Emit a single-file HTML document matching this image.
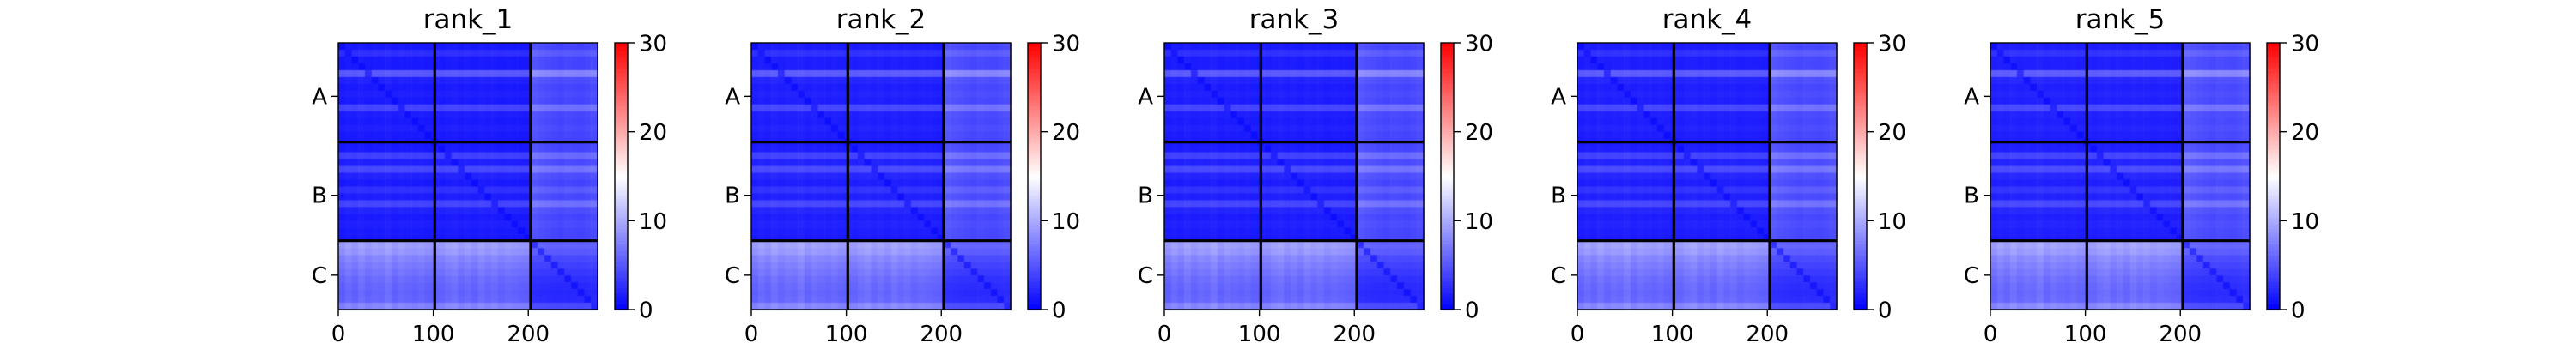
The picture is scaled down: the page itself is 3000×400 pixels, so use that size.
<!DOCTYPE html>
<html><head><meta charset="utf-8"><style>
html,body{margin:0;padding:0;background:#fff;}
#wrap{position:relative;width:3000px;height:400px;overflow:hidden;}
canvas{position:absolute;top:0;left:0;}
svg{position:absolute;top:0;left:0;display:block;font-family:"DejaVu Sans","Liberation Sans",sans-serif;}
</style></head><body>
<div id="wrap">
<canvas id="cv" width="3000" height="400"></canvas>
<svg id="fig" width="3000" height="400" viewBox="0 0 3000 400" xmlns="http://www.w3.org/2000/svg"></svg>
</div>
<script>
// ---- data ----
var panelTitles = ["rank_1","rank_2","rank_3","rank_4","rank_5"];
var rankShift = [0, 0.2, 0.1, 0.2, 0.3];
var segmentLabels = ["A","B","C"];
var segmentBounds = [0, 101.5, 202.5, 273];
var xTicks = [0, 100, 200];
var cbarTicks = [0, 10, 20, 30];
// block base values [rowBlock][colBlock]
var blockBase = [[1,1,3],[1,1,3],[5.5,5.5,2.5]];
// per-row (7-unit step) extra intensity
var rowBoost = [0.2,1.5,0.3,0.3,4,0.8,0.3,0.6,0.3,2.8,0.5,0.3,0.6,0.3,0.2,
  0.3,2.5,0.6,3,0.8,0.3,1.6,0.5,2.8,0.8,0.3,0.6,0.3,0.2,
  3,2.5,1.5,1,0.5,0,-0.3,-0.5,-0.3,1.5];
// per-column (7-unit step) extra intensity
var colBoost = [0.3,1,0.5,1.2,0.6,1,0.8,1.4,0.5,1,0.7,0.5,0.8,0.4,0.3,
  0.5,1,1.3,0.6,1,0.5,1.2,0.7,1,0.5,0.8,0.6,0.4,0.3,
  1.5,1.2,1,0.8,0.6,0.8,0.7,0.6,0.8,1];
var cellUnits = 7;

// ---- layout ----
var NS = "http://www.w3.org/2000/svg";
var svg = document.getElementById("fig");
var ctx = document.getElementById("cv").getContext("2d");
var firstLeft = 394, panelStep = 481, hmW = 302, hmTop = 50, hmBot = 361;
var unitMax = 273, vmax = 30;
function mk(tag, attrs, parent){var e=document.createElementNS(NS,tag);for(var k in attrs)e.setAttribute(k,String(attrs[k]));(parent||svg).appendChild(e);return e;}
function bwr(v){
  if(!isFinite(v)) v = 3;
  v=Math.max(0,Math.min(vmax,v));
  var rr,gg,bb;
  if(v<=15){var t=v/15;rr=Math.round(255*t);gg=rr;bb=255;}
  else{var t2=(v-15)/15;rr=255;gg=Math.round(255*(1-t2));bb=gg;}
  return "rgb("+rr+","+gg+","+bb+")";
}
function blockOf(u){return u<segmentBounds[1]?0:(u<segmentBounds[2]?1:2);}

for (var p=0; p<panelTitles.length; p++){
  var left = firstLeft + p*panelStep;
  var xS = (function(L){return function(u){return L + u/unitMax*hmW;};})(left);
  var yS = function(u){return hmTop + u/unitMax*(hmBot-hmTop);};
  var n = rowBoost.length;
  for (var i=0;i<n;i++){
    var ui=i*cellUnits, bi=blockOf(ui+3);
    for (var j=0;j<n;j++){
      var uj=j*cellUnits, bj=blockOf(uj+3);
      var v = Number(blockBase[bi][bj]) + Number(rankShift[p]) + Number(rowBoost[i]);
      if ((bi<2 && bj==2) || (bi==2 && bj<2)) v += Number(colBoost[j]);
      else v += 0.3*Number(colBoost[j]);
      if (bi===bj && i===j) v = v*0.5;
      ctx.fillStyle = bwr(v);
      var x0 = xS(uj), x1 = xS(Math.min(uj+cellUnits,unitMax));
      var y0 = yS(ui), y1 = yS(Math.min(ui+cellUnits,unitMax));
      ctx.fillRect(x0, y0, x1-x0+0.6, y1-y0+0.6);
    }
  }
  // colorbar gradient
  var cbL = left + 322, cbW = 15, steps = 120;
  for (var s=0;s<steps;s++){
    var cv = (s+0.5)/steps*vmax;
    var cy0 = hmBot - (s+1)/steps*(hmBot-hmTop);
    ctx.fillStyle = bwr(cv);
    ctx.fillRect(cbL, cy0, cbW, (hmBot-hmTop)/steps+0.6);
  }

  // block separators
  [segmentBounds[1], segmentBounds[2]].forEach(function(b){
    var v1 = mk("line",{x1:xS(b),x2:xS(b),y1:hmTop,y2:hmBot,stroke:"#000","stroke-width":3.2});
    
    
    var h1 = mk("line",{x1:left,x2:left+hmW,y1:yS(b),y2:yS(b),stroke:"#000","stroke-width":3.2});
    
    
  });
  var frame = mk("rect",{x:left,y:hmTop,width:hmW,height:hmBot-hmTop,fill:"none",stroke:"#000","stroke-width":1.4});
  
  
  var t = mk("text",{x:left+hmW/2,y:33,"text-anchor":"middle","font-size":31});
  t.textContent = panelTitles[p];
  
  
  xTicks.forEach(function(val){
    var x = xS(val);
    var tk = mk("line",{x1:x,x2:x,y1:hmBot,y2:hmBot+8,stroke:"#000","stroke-width":1.4});
    
    
    var tl = mk("text",{x:x,y:398,"text-anchor":"middle","font-size":26});
    tl.textContent = val;
    
    
  });
  segmentLabels.forEach(function(lab, k){
    var y = k<2 ? yS((segmentBounds[k]+segmentBounds[k+1])/2 + 4) : yS((segmentBounds[k]+segmentBounds[k+1])/2);
    var tk = mk("line",{x1:left-8,x2:left,y1:y,y2:y,stroke:"#000","stroke-width":1.4});
    
    
    var tl = mk("text",{x:left-13,y:y+9,"text-anchor":"end","font-size":26});
    tl.textContent = lab;
    
    
  });
  var cf = mk("rect",{x:cbL,y:hmTop,width:cbW,height:hmBot-hmTop,fill:"none",stroke:"#000","stroke-width":1.4});
  
  
  cbarTicks.forEach(function(val){
    var y = hmBot - val/vmax*(hmBot-hmTop);
    var tk = mk("line",{x1:cbL+cbW,x2:cbL+cbW+8,y1:y,y2:y,stroke:"#000","stroke-width":1.4});
    
    
    var tl = mk("text",{x:cbL+cbW+13,y:y+9.5,"font-size":26});
    tl.textContent = val;
    
    
  });
}
</script>
</body></html>
